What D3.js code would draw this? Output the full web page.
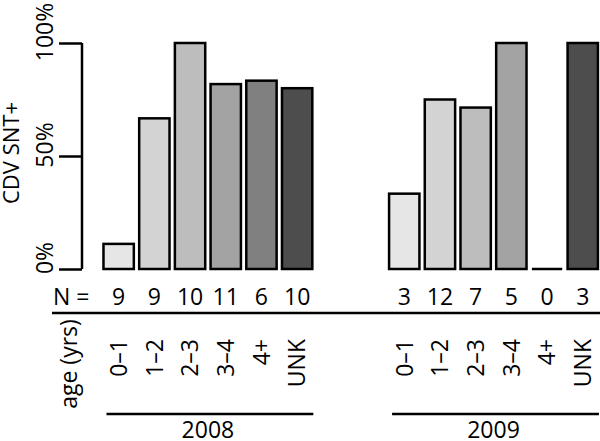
<!DOCTYPE html>
<html>
<head>
<meta charset="utf-8">
<script src="https://cdn.jsdelivr.net/npm/d3@7"></script>
<style>
  html, body { margin: 0; padding: 0; background: #fff; }
  svg { display: block; }
  text { font-family: "Open Sans", "Noto Sans", sans-serif; fill: #000; }
</style>
</head>
<body>
<script>
// ---- data ----
const ageGroups = ["0–1", "1–2", "2–3", "3–4", "4+", "UNK"];
const years = ["2008", "2009"];
const positive2008 = [1, 6, 10, 9, 5, 8];
const n2008 = [9, 9, 10, 11, 6, 10];
const positive2009 = [1, 9, 5, 5, 0, 3];
const n2009 = [3, 12, 7, 5, 0, 3];
const yTickValues = [0, 0.5, 1];
const yTickLabels = ["0%", "50%", "100%"];
const barColors = ["#e6e6e6", "#d3d3d3", "#bdbdbd", "#a3a3a3", "#808080", "#4d4d4d"];

const W = 600, H = 441;
const svg = d3.select("body").append("svg").attr("width", W).attr("height", H);

// slots: 6 bars, 2 empty, 6 bars
const rows = [];
ageGroups.forEach((a, i) => rows.push({ year: "2008", age: a, ai: i, slot: i, n: n2008[i], v: n2008[i] ? positive2008[i] / n2008[i] : 0 }));
ageGroups.forEach((a, i) => rows.push({ year: "2009", age: a, ai: i, slot: i + 8, n: n2009[i], v: n2009[i] ? positive2009[i] / n2009[i] : 0 }));

const x = d3.scaleBand().domain(d3.range(14)).range([100.8, 600.6]).paddingInner(0.15).paddingOuter(0.075);
const y = d3.scaleLinear().domain([0, 1]).range([269, 43]);
const fs = 23;

// y axis (R style)
const axisX = 82;
const yAxis = d3.axisLeft(y).tickValues(yTickValues).tickSize(23).tickFormat("");
const gy = svg.append("g").attr("transform", `translate(${axisX},0)`).call(yAxis);
gy.select(".domain").attr("d", `M0,${y(0)}H0V${y(1)}H0`).attr("stroke", "#000").attr("stroke-width", 2.5);
gy.selectAll(".tick line").attr("stroke", "#000").attr("stroke-width", 2.5);
yTickValues.forEach((t, i) => {
  svg.append("text")
    .attr("transform", `translate(53,${y(t) - 11}) rotate(-90)`)
    .attr("text-anchor", "middle")
    .attr("font-size", fs)
    .text(yTickLabels[i]);
});
svg.append("text")
  .attr("transform", `translate(19,153) rotate(-90)`)
  .attr("text-anchor", "middle")
  .attr("font-size", fs - 1)
  .text("CDV SNT+");

// bars
rows.forEach(d => {
  const x0 = x(d.slot), bw = x.bandwidth();
  if (d.v > 0) {
    svg.append("rect")
      .attr("x", x0).attr("y", y(d.v))
      .attr("width", bw).attr("height", y(0) - y(d.v))
      .attr("fill", barColors[d.ai]).attr("stroke", "#000").attr("stroke-width", 2.5);
  } else {
    svg.append("line")
      .attr("x1", x0).attr("x2", x0 + bw).attr("y1", y(0)).attr("y2", y(0))
      .attr("stroke", "#000").attr("stroke-width", 2.5);
  }
  // N counts
  svg.append("text")
    .attr("x", x0 + bw / 2).attr("y", 305)
    .attr("text-anchor", "middle").attr("font-size", fs)
    .text(d.n);
  // age labels
  svg.append("text")
    .attr("transform", `translate(${x0 + bw / 2},339) rotate(-90)`)
    .attr("text-anchor", "end").attr("dy", "0.36em").attr("font-size", fs)
    .text(d.age);
});

svg.append("text").attr("x", 53).attr("y", 305).attr("font-size", fs).text("N =");
svg.append("line").attr("x1", 52).attr("x2", 600).attr("y1", 313).attr("y2", 313)
  .attr("stroke", "#000").attr("stroke-width", 2.5);
svg.append("text")
  .attr("transform", `translate(77,364) rotate(-90)`)
  .attr("text-anchor", "middle").attr("font-size", fs)
  .text("age (yrs)");

// year brackets
years.forEach((yr, k) => {
  const first = k === 0 ? 0 : 8, last = first + 5;
  const left = x(first), right = x(last) + x.bandwidth();
  svg.append("line").attr("x1", left + 3).attr("x2", right + 1).attr("y1", 414).attr("y2", 414)
    .attr("stroke", "#000").attr("stroke-width", 2.5);
  svg.append("text").attr("x", (left + right) / 2).attr("y", 438)
    .attr("text-anchor", "middle").attr("font-size", fs).text(yr);
});
</script>
</body>
</html>
